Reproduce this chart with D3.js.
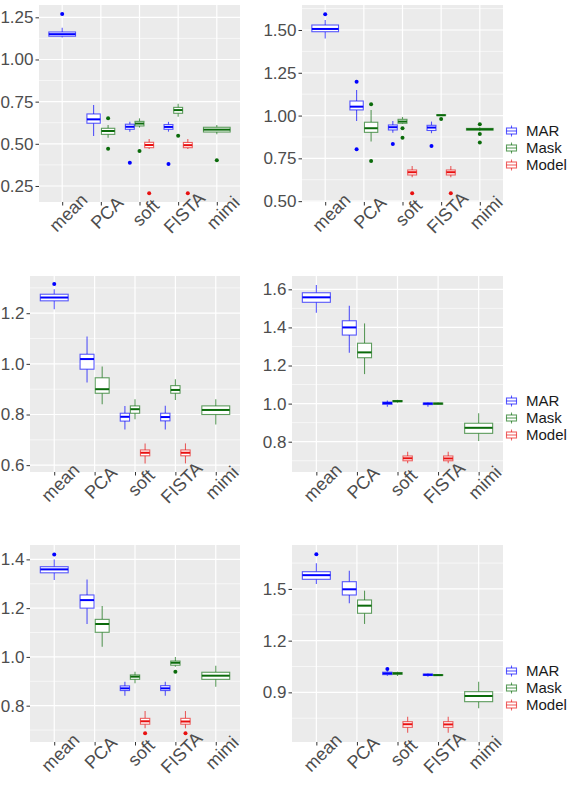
<!DOCTYPE html>
<html lang="en">
<head>
<meta charset="UTF-8">
<title>boxplots</title>
<script src="https://d3js.org/d3.v7.min.js"></script>
<style>
body { margin: 0; background: #fff; }
svg { display: block; font-family: "Liberation Sans", Arial, sans-serif; }
</style>
</head>
<body>
<div id="container"></div>
<script>
// categories and groups
const methods = ["mean", "PCA", "soft", "FISTA", "mimi"];
const groups = ["MAR", "Mask", "Model"];
const groupColors = ["#0000FF", "#0B6B0B", "#E81010"];

// box stats per panel: [method, group, low whisker, q1, median, q3, high whisker]
const p1Boxes = [
  ["mean", "MAR", 1.13, 1.138, 1.15, 1.163, 1.188],
  ["PCA", "MAR", 0.546, 0.622, 0.645, 0.677, 0.73],
  ["PCA", "Mask", 0.536, 0.556, 0.576, 0.592, 0.612],
  ["soft", "MAR", 0.572, 0.586, 0.601, 0.616, 0.631],
  ["soft", "Mask", 0.596, 0.606, 0.62, 0.633, 0.651],
  ["soft", "Model", 0.469, 0.477, 0.493, 0.509, 0.529],
  ["FISTA", "MAR", 0.572, 0.586, 0.6, 0.614, 0.63],
  ["FISTA", "Mask", 0.661, 0.681, 0.7, 0.716, 0.738],
  ["FISTA", "Model", 0.469, 0.477, 0.492, 0.508, 0.528],
  ["mimi", "Mask", 0.556, 0.57, 0.584, 0.598, 0.612]
];
const p1Outliers = [
  ["mean", "MAR", 1.27], ["PCA", "Mask", 0.651], ["PCA", "Mask", 0.47],
  ["soft", "MAR", 0.388], ["soft", "Mask", 0.457], ["soft", "Model", 0.207],
  ["FISTA", "MAR", 0.38], ["FISTA", "Mask", 0.548], ["FISTA", "Model", 0.207],
  ["mimi", "Mask", 0.402]
];

const p2Boxes = [
  ["mean", "MAR", 1.451, 1.49, 1.506, 1.529, 1.558],
  ["PCA", "MAR", 0.968, 1.033, 1.052, 1.085, 1.15],
  ["PCA", "Mask", 0.848, 0.902, 0.926, 0.961, 1.033],
  ["soft", "MAR", 0.9, 0.916, 0.932, 0.945, 0.968],
  ["soft", "Mask", 0.95, 0.955, 0.965, 0.978, 0.992],
  ["soft", "Model", 0.64, 0.653, 0.669, 0.682, 0.706],
  ["FISTA", "MAR", 0.897, 0.913, 0.93, 0.943, 0.965],
  ["FISTA", "Mask", 0.998, 1.0, 1.002, 1.005, 1.007],
  ["FISTA", "Model", 0.64, 0.653, 0.669, 0.682, 0.706],
  ["mimi", "Mask", 0.908, 0.915, 0.92, 0.925, 0.932]
];
const p2Outliers = [
  ["mean", "MAR", 1.592], ["PCA", "MAR", 1.198], ["PCA", "MAR", 0.803],
  ["PCA", "Mask", 1.066], ["PCA", "Mask", 0.735], ["soft", "MAR", 0.834],
  ["soft", "Mask", 0.926], ["soft", "Mask", 0.871], ["soft", "Model", 0.546],
  ["FISTA", "MAR", 0.822], ["FISTA", "Mask", 0.98], ["FISTA", "Model", 0.546],
  ["mimi", "Mask", 0.949], ["mimi", "Mask", 0.893], ["mimi", "Mask", 0.842]
];

const p3Boxes = [
  ["mean", "MAR", 1.216, 1.249, 1.262, 1.275, 1.295],
  ["PCA", "MAR", 0.926, 0.979, 1.019, 1.038, 1.108],
  ["PCA", "Mask", 0.841, 0.884, 0.9, 0.945, 0.99],
  ["soft", "MAR", 0.741, 0.774, 0.791, 0.805, 0.834],
  ["soft", "Mask", 0.781, 0.805, 0.821, 0.834, 0.86],
  ["soft", "Model", 0.607, 0.637, 0.649, 0.66, 0.686],
  ["FISTA", "MAR", 0.741, 0.775, 0.79, 0.805, 0.835],
  ["FISTA", "Mask", 0.857, 0.884, 0.897, 0.914, 0.939],
  ["FISTA", "Model", 0.607, 0.637, 0.649, 0.66, 0.686],
  ["mimi", "Mask", 0.761, 0.8, 0.818, 0.834, 0.86]
];
const p3Outliers = [["mean", "MAR", 1.315]];

const p4Boxes = [
  ["mean", "MAR", 1.477, 1.532, 1.558, 1.582, 1.623],
  ["PCA", "MAR", 1.267, 1.36, 1.4, 1.435, 1.514],
  ["PCA", "Mask", 1.155, 1.241, 1.269, 1.317, 1.421],
  ["soft", "MAR", 0.983, 0.996, 1.003, 1.008, 1.017],
  ["soft", "Mask", 1.005, 1.01, 1.013, 1.016, 1.02],
  ["soft", "Model", 0.687, 0.7, 0.713, 0.725, 0.747],
  ["FISTA", "MAR", 0.983, 0.995, 1.0, 1.003, 1.006],
  ["FISTA", "Mask", 0.994, 0.997, 1.0, 1.003, 1.006],
  ["FISTA", "Model", 0.687, 0.7, 0.712, 0.725, 0.747],
  ["mimi", "Mask", 0.804, 0.844, 0.873, 0.897, 0.949]
];
const p4Outliers = [];

const p5Boxes = [
  ["mean", "MAR", 1.315, 1.345, 1.359, 1.37, 1.4],
  ["PCA", "MAR", 1.135, 1.2, 1.233, 1.254, 1.318],
  ["PCA", "Mask", 1.042, 1.101, 1.135, 1.154, 1.209],
  ["soft", "MAR", 0.841, 0.862, 0.871, 0.881, 0.898],
  ["soft", "Mask", 0.892, 0.908, 0.919, 0.926, 0.939],
  ["soft", "Model", 0.707, 0.724, 0.736, 0.748, 0.778],
  ["FISTA", "MAR", 0.841, 0.862, 0.871, 0.882, 0.898],
  ["FISTA", "Mask", 0.96, 0.966, 0.976, 0.983, 1.0],
  ["FISTA", "Model", 0.707, 0.724, 0.735, 0.748, 0.778],
  ["mimi", "Mask", 0.878, 0.908, 0.923, 0.937, 0.964]
];
const p5Outliers = [
  ["mean", "MAR", 1.42], ["soft", "Model", 0.687],
  ["FISTA", "Mask", 0.939], ["FISTA", "Model", 0.687]
];

const p6Boxes = [
  ["mean", "MAR", 1.529, 1.556, 1.58, 1.6, 1.649],
  ["PCA", "MAR", 1.417, 1.465, 1.498, 1.542, 1.606],
  ["PCA", "Mask", 1.297, 1.359, 1.403, 1.436, 1.49],
  ["soft", "MAR", 0.997, 1.003, 1.01, 1.017, 1.022],
  ["soft", "Mask", 0.995, 1.005, 1.01, 1.015, 1.02],
  ["soft", "Model", 0.666, 0.697, 0.715, 0.73, 0.759],
  ["FISTA", "MAR", 0.99, 0.998, 1.002, 1.006, 1.01],
  ["FISTA", "Mask", 0.995, 0.998, 1.0, 1.003, 1.006],
  ["FISTA", "Model", 0.666, 0.697, 0.714, 0.73, 0.759],
  ["mimi", "Mask", 0.808, 0.846, 0.879, 0.904, 0.962]
];
const p6Outliers = [["mean", "MAR", 1.701], ["soft", "MAR", 1.035]];

// y axis ticks and limits per panel
const p1Ticks = [0.25, 0.5, 0.75, 1.0, 1.25], p1Domain = [0.155, 1.323];
const p2Ticks = [0.5, 0.75, 1.0, 1.25, 1.5], p2Domain = [0.495, 1.646];
const p3Ticks = [0.6, 0.8, 1.0, 1.2], p3Domain = [0.573, 1.347];
const p4Ticks = [0.8, 1.0, 1.2, 1.4, 1.6], p4Domain = [0.641, 1.670];
const p5Ticks = [0.8, 1.0, 1.2, 1.4], p5Domain = [0.651, 1.459];
const p6Ticks = [0.9, 1.2, 1.5], p6Domain = [0.612, 1.755];

const panels = [
  { boxes: p1Boxes, outliers: p1Outliers, ticks: p1Ticks, domain: p1Domain, fmt: ".2f", x0: 39, y0: 5, x1: 240, y1: 202, legend: false },
  { boxes: p2Boxes, outliers: p2Outliers, ticks: p2Ticks, domain: p2Domain, fmt: ".2f", x0: 302, y0: 5, x1: 503, y1: 202, legend: true },
  { boxes: p3Boxes, outliers: p3Outliers, ticks: p3Ticks, domain: p3Domain, fmt: ".1f", x0: 30, y0: 276, x1: 240, y1: 472, legend: false },
  { boxes: p4Boxes, outliers: p4Outliers, ticks: p4Ticks, domain: p4Domain, fmt: ".1f", x0: 292, y0: 276, x1: 503, y1: 472, legend: true },
  { boxes: p5Boxes, outliers: p5Outliers, ticks: p5Ticks, domain: p5Domain, fmt: ".1f", x0: 30, y0: 545, x1: 240, y1: 742, legend: false },
  { boxes: p6Boxes, outliers: p6Outliers, ticks: p6Ticks, domain: p6Domain, fmt: ".1f", x0: 292, y0: 545, x1: 503, y1: 742, legend: true }
];

const width = 585, height = 785;
const tickFont = 17, xFont = 18, legendFont = 15;
const color = d3.scaleOrdinal().domain(groups).range(groupColors);

const svg = d3.select("#container").append("svg")
  .attr("width", width)
  .attr("height", height);

panels.forEach(p => {
  const g = svg.append("g");
  const x = d3.scalePoint().domain(methods).range([p.x0, p.x1]).padding(0.6);
  const y = d3.scaleLinear().domain(p.domain).range([p.y1, p.y0]);
  const step = x.step();

  // panel background + grid
  g.append("rect")
    .attr("x", p.x0).attr("y", p.y0)
    .attr("width", p.x1 - p.x0).attr("height", p.y1 - p.y0)
    .attr("fill", "#EBEBEB");

  const tstep = p.ticks[1] - p.ticks[0];
  const minor = p.ticks.map(t => t - tstep / 2)
    .concat([p.ticks[p.ticks.length - 1] + tstep / 2])
    .filter(v => v > p.domain[0] && v < p.domain[1]);

  g.selectAll(".minor").data(minor).join("line")
    .attr("x1", p.x0).attr("x2", p.x1)
    .attr("y1", d => y(d)).attr("y2", d => y(d))
    .attr("stroke", "#fff").attr("stroke-width", 0.6);
  g.selectAll(".major").data(p.ticks).join("line")
    .attr("x1", p.x0).attr("x2", p.x1)
    .attr("y1", d => y(d)).attr("y2", d => y(d))
    .attr("stroke", "#fff").attr("stroke-width", 1.2);
  g.selectAll(".vmajor").data(methods).join("line")
    .attr("x1", d => x(d)).attr("x2", d => x(d))
    .attr("y1", p.y0).attr("y2", p.y1)
    .attr("stroke", "#fff").attr("stroke-width", 1.2);

  // axes
  const ya = g.append("g")
    .attr("transform", `translate(${p.x0},0)`)
    .call(d3.axisLeft(y).tickValues(p.ticks).tickFormat(d3.format(p.fmt)).tickSize(3.5).tickPadding(2));
  ya.select(".domain").remove();
  ya.selectAll("line").attr("stroke", "#333");
  ya.selectAll("text").attr("fill", "#4D4D4D").style("font-size", tickFont + "px");

  const xa = g.append("g")
    .attr("transform", `translate(0,${p.y1})`)
    .call(d3.axisBottom(x).tickSize(3.5));
  xa.select(".domain").remove();
  xa.selectAll("line").attr("stroke", "#333");
  xa.selectAll("text")
    .attr("fill", "#4D4D4D").style("font-size", xFont + "px")
    .attr("x", 0).attr("y", 0).attr("dy", "0.71em")
    .attr("text-anchor", "middle")
    .attr("transform", "translate(1,6) rotate(-45)");

  // dodge position for a (method, group)
  const present = m => groups.filter(gr => p.boxes.some(b => b[0] === m && b[1] === gr));
  const pos = (m, gr) => {
    const gs = present(m);
    const slot = 0.75 * step / gs.length;
    const i = gs.indexOf(gr);
    return { cx: x(m) - 0.75 * step / 2 + slot * (i + 0.5), w: slot * 0.92 };
  };

  const boxes = g.selectAll(".box").data(p.boxes).join("g");
  boxes.each(function(b) {
    const s = d3.select(this);
    const { cx, w } = pos(b[0], b[1]);
    const c = color(b[1]);
    s.append("line")
      .attr("x1", cx).attr("x2", cx).attr("y1", y(b[6])).attr("y2", y(b[5]))
      .attr("stroke", c).attr("stroke-opacity", 0.65).attr("stroke-width", 1.1);
    s.append("line")
      .attr("x1", cx).attr("x2", cx).attr("y1", y(b[3])).attr("y2", y(b[2]))
      .attr("stroke", c).attr("stroke-opacity", 0.65).attr("stroke-width", 1.1);
    s.append("rect")
      .attr("x", cx - w / 2).attr("y", y(b[5]))
      .attr("width", w).attr("height", Math.max(0.5, y(b[3]) - y(b[5])))
      .attr("fill", "#fff")
      .attr("stroke", c).attr("stroke-opacity", 0.65).attr("stroke-width", 1.1);
    s.append("line")
      .attr("x1", cx - w / 2).attr("x2", cx + w / 2)
      .attr("y1", y(b[4])).attr("y2", y(b[4]))
      .attr("stroke", c).attr("stroke-width", 2);
  });

  g.selectAll(".out").data(p.outliers).join("circle")
    .attr("cx", d => pos(d[0], d[1]).cx)
    .attr("cy", d => y(d[2]))
    .attr("r", 2)
    .attr("fill", d => color(d[1]));

  // legend
  if (p.legend) {
    const lg = g.append("g");
    groups.forEach((gr, i) => {
      const cy = p.y1 - 54 + (i - 1) * 17;
      const c = color(gr);
      const kx = 511.5;
      lg.append("line").attr("x1", kx).attr("x2", kx).attr("y1", cy - 5.5).attr("y2", cy + 5.5)
        .attr("stroke", c).attr("stroke-opacity", 0.65).attr("stroke-width", 1.1);
      lg.append("rect").attr("x", kx - 5).attr("y", cy - 3).attr("width", 10).attr("height", 6)
        .attr("fill", "#fff").attr("stroke", c).attr("stroke-opacity", 0.65).attr("stroke-width", 1.1);
      lg.append("line").attr("x1", kx - 5).attr("x2", kx + 5).attr("y1", cy).attr("y2", cy)
        .attr("stroke", c).attr("stroke-opacity", 0.65).attr("stroke-width", 1.1);
      lg.append("text").attr("x", 526).attr("y", cy).attr("dy", "0.36em")
        .style("font-size", legendFont + "px").attr("fill", "#1A1A1A")
        .text(gr);
    });
  }
});
</script>
</body>
</html>
